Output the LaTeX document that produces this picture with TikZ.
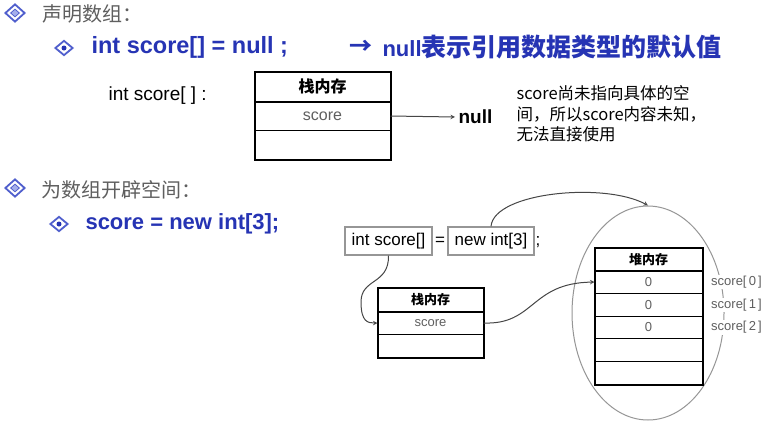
\documentclass[tikz,border=0pt]{standalone}
\usepackage{fontspec}
\setmainfont{Liberation Sans}
\newfontfamily\cjk{Noto Sans CJK SC}
\usetikzlibrary{shapes.geometric}
\definecolor{codeblue}{RGB}{38,52,180}
\definecolor{bulletblue}{RGB}{80,95,205}
\definecolor{bulletfill}{RGB}{165,175,235}
\definecolor{headgray}{RGB}{95,95,95}
\definecolor{boxgray}{RGB}{150,150,150}
\definecolor{linkgray}{RGB}{70,70,70}
\begin{document}
\begin{tikzpicture}[x=1pt,y=-1pt,
    bulletout/.style={diamond,draw=bulletblue,line width=1.8pt,fill=white,
        minimum width=20pt,minimum height=18pt,inner sep=0pt},
    bulletsub/.style={bulletout,minimum width=18pt,minimum height=15pt},
    bulletin/.style={diamond,draw=bulletblue,fill=bulletfill,line width=0.8pt,
        minimum width=9pt,minimum height=8pt,inner sep=0pt},
    bulletdot/.style={circle,fill=codeblue,minimum size=5pt,inner sep=0pt},
    heading/.style={anchor=west,text=headgray,font=\cjk\fontsize{20}{22}\selectfont},
    code/.style={anchor=west,text=codeblue,font=\bfseries\fontsize{22}{24}\selectfont},
    cell/.style={draw,fill=white,line width=1pt,inner sep=0pt},
    codebox/.style={draw=boxgray,line width=1.3pt,inner sep=0pt,minimum height=28pt,
        font=\fontsize{17}{17}\selectfont},
    link/.style={draw=linkgray,line width=1pt,->,>=stealth}]
    \useasboundingbox[fill=white] (0,0) rectangle (775,423);
    % declaring the array
    \node[bulletout] (b1) at (15,13) {};
    \node[bulletin] (b1i) at (b1) {};
    \node[heading] (h1) at (39,14) {声明数组：};
    \node[bulletsub] (b2) at (64,48) {};
    \node[bulletdot] (b2i) at (b2) {};
    \node[code,font=\bfseries\fontsize{23.5}{24}\selectfont] (c1) at (88,47) {int score[] = null ;};
    \node[code,font=\cjk\bfseries\fontsize{23}{24}\selectfont] (arr) at (346,47) {→};
    \node[code] (c1note) at (379,47) {null{\cjk\fontsize{25}{26}\selectfont 表示引用数据类型的默认值}};
    \node[anchor=west,font=\fontsize{19}{19}\selectfont] (decl) at (105,96) {int score[ ] :};
    \node[cell,minimum width=135pt,minimum height=29.3pt,
        font=\cjk\bfseries\fontsize{16}{16}\selectfont] (stA-head) at (322.5,86.7) {栈内存};
    \node[cell,minimum width=135pt,minimum height=29.3pt,text=headgray,
        font=\fontsize{16}{16}\selectfont] (stA-r1) at (322.5,116) {score};
    \node[cell,minimum width=135pt,minimum height=29.3pt] (stA-r2) at (322.5,145.3) {};
    \draw[line width=2pt] (stA-head.north west) rectangle (stA-r2.south east);
    \draw[line width=2.6pt] (stA-head.south west) -- (stA-head.south east);
    \node[anchor=west,font=\bfseries\fontsize{19}{19}\selectfont] (nullval) at (455,117) {null};
    \draw[link] (stA-r1.east) -- (nullval.west);
    \node[anchor=west,align=left,font=\cjk\fontsize{16.5}{20.5}\selectfont] (note) at (513,114)
        {score尚未指向具体的空\\间，所以score内容未知，\\无法直接使用};
    % allocating the space
    \node[bulletout] (b3) at (15,188) {};
    \node[bulletin] (b3i) at (b3) {};
    \node[heading] (h2) at (38,190) {为数组开辟空间：};
    \node[bulletsub] (b4) at (59,224) {};
    \node[bulletdot] (b4i) at (b4) {};
    \node[code] (c2) at (82,224) {score = new int[3];};
    \node[codebox,minimum width=87pt] (boxA) at (388.5,241) {int score[]};
    \node[font=\fontsize{17}{17}\selectfont] (eq) at (440,241) {=};
    \node[codebox,minimum width=86pt] (boxB) at (491,241) {new int[3]};
    \node[font=\fontsize{17}{17}\selectfont] (semi) at (538,242) {;};
    \node[cell,minimum width=105pt,minimum height=23.3pt,
        font=\cjk\bfseries\fontsize{13}{13}\selectfont] (stB-head) at (430.5,299.7) {栈内存};
    \node[cell,minimum width=105pt,minimum height=23.3pt,text=headgray,
        font=\fontsize{13}{13}\selectfont] (stB-r1) at (430.5,323) {score};
    \node[cell,minimum width=105pt,minimum height=23.3pt] (stB-r2) at (430.5,346.3) {};
    \draw[line width=2pt] (stB-head.north west) rectangle (stB-r2.south east);
    \draw[line width=2.4pt] (stB-head.south west) -- (stB-head.south east);
    \node[ellipse,draw=boxgray,line width=1pt,minimum width=152pt,minimum height=214pt] (heap) at (648,313) {};
    \node[cell,minimum width=107pt,minimum height=22.7pt,
        font=\cjk\bfseries\fontsize{13}{13}\selectfont] (hp-head) at (648.5,259.35) {堆内存};
    \foreach \i/\v in {1/0,2/0,3/0,4/{},5/{}}
        \node[cell,minimum width=107pt,minimum height=22.7pt,text=headgray,
            font=\fontsize{13}{13}\selectfont] (hp-r\i) at (648.5,{259.35+22.7*\i}) {\v};
    \draw[line width=2pt] (hp-head.north west) rectangle (hp-r5.south east);
    \draw[line width=2.4pt] (hp-head.south west) -- (hp-head.south east);
    \foreach \i/\k in {1/0,2/1,3/2}
        \node[anchor=west,fill=white,inner sep=1pt,text=headgray,font=\fontsize{13}{13}\selectfont]
            (idx\k) at (710,{259.35+22.7*\i}) {score[\,\k\,]};
    % links
    \draw[link] (boxA.south) .. controls (389,285) and (361,278) .. (361,302)
        .. controls (361,322) and (368,323) .. (stB-r1.west);
    \draw[link] (boxB.north) .. controls (494,192) and (605,182) .. (heap.north);
    \draw[link] (stB-r1.east) .. controls (535,325) and (530,283) .. (hp-r1.west);
\end{tikzpicture}
\end{document}
